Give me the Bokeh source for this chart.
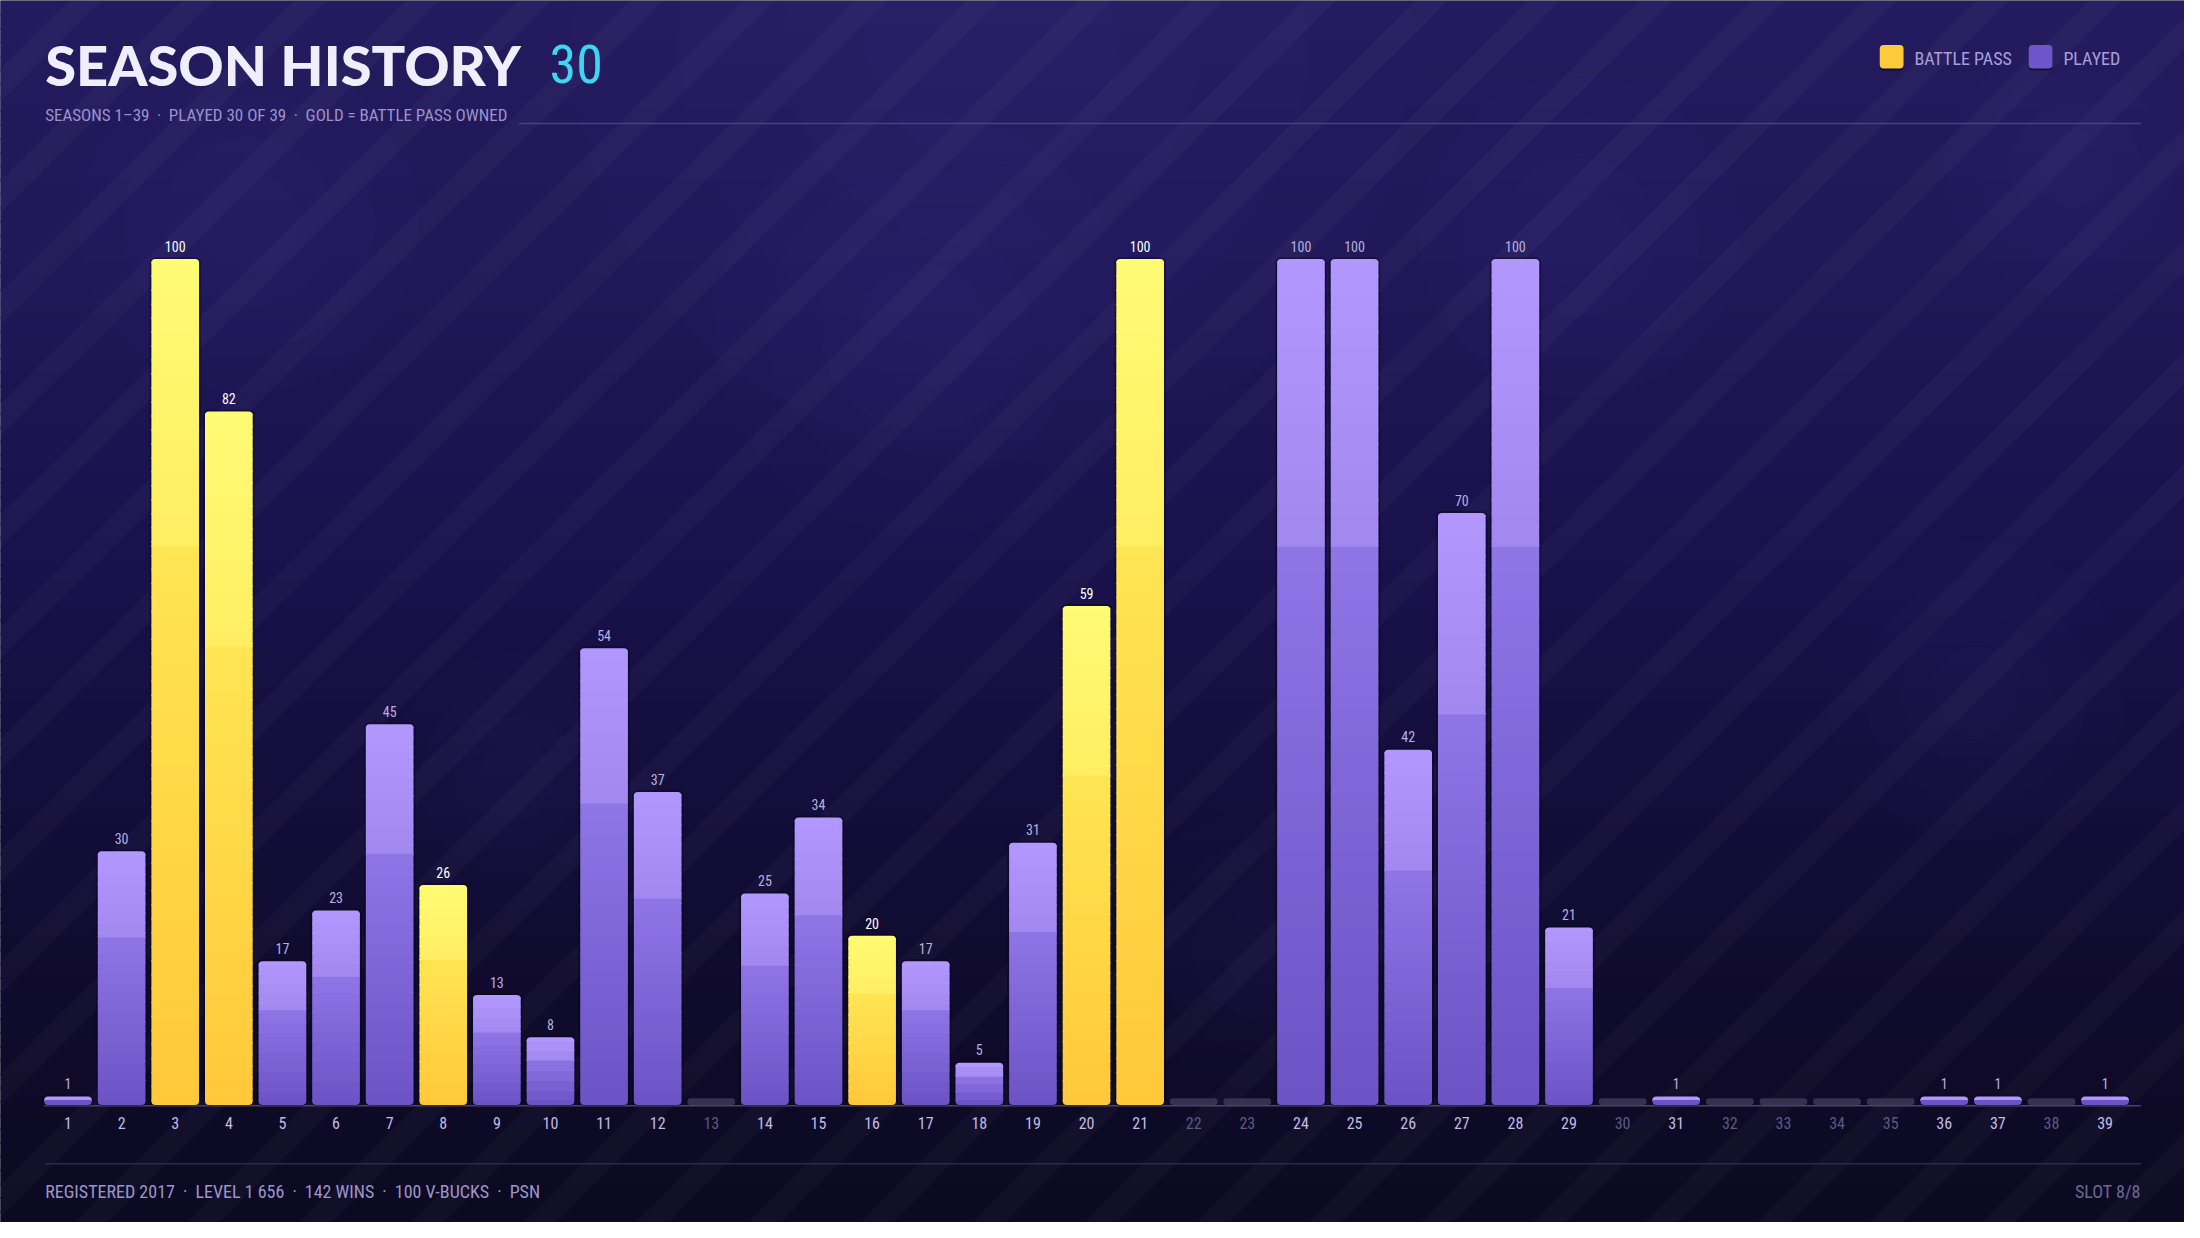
import numpy as np
from bokeh.plotting import figure
from bokeh.models import Range1d, ColumnDataSource
from bokeh.core.properties import value
from bokeh.embed import file_html
from bokeh.resources import INLINE

# ------------------------------------------------------------------ data
seasons = list(range(1, 40))
levels = [1, 30, 100, 82, 17, 23, 45, 26, 13, 8, 54, 37, 0, 25, 34, 20, 17, 5, 31, 59,
          100, 0, 0, 100, 100, 42, 70, 100, 21, 0, 1, 0, 0, 0, 0, 1, 1, 0, 1]
battle_pass_seasons = [3, 4, 8, 16, 20, 21]
tick_labels = [str(s) for s in seasons]

SEP = "\u2002\u00b7\u2002"
title_text = "SEASON HISTORY"
title_count = "30"
subtitle_text = SEP.join(["SEASONS 1\u201339", "PLAYED 30 OF 39", "GOLD = BATTLE PASS OWNED"])
legend_labels = ["BATTLE PASS", "PLAYED"]
footer_left = SEP.join(["REGISTERED 2017", "LEVEL 1 656", "142 WINS", "100 V-BUCKS", "PSN"])
footer_right = "SLOT 8/8"

# ------------------------------------------------------------------ layout (reference pixels)
W, H = 2184, 1222
REF_W, REF_H = 2200, 1238
X0, STEP = 68.0, 54.0          # first bar centre, bar pitch
BASE_Y, PPU = 1119.0, 8.57     # baseline, pixels per level unit


def dx(X):
    return 1 + (X - X0) / STEP


def dy(Y):
    return (BASE_Y - Y) / PPU


def sx(px):
    return px / STEP


def sy(px):
    return px / PPU


COND = ("'Noto Sans Condensed', 'Roboto Condensed', 'Open Sans Condensed', "
        "'Liberation Sans Narrow', 'DejaVu Sans Condensed', Roboto, sans-serif")
HEAVY = "'Lato Black', 'Lato Heavy', Lato, sans-serif"


def h2r(h):
    h = h.lstrip('#')
    return np.array([int(h[i:i + 2], 16) for i in (0, 2, 4)], dtype=float)


def r2h(c):
    c = np.clip(np.round(c), 0, 255).astype(int)
    return "#%02x%02x%02x" % tuple(c)


def mix(a, b, t):
    return r2h(h2r(a) * (1 - t) + h2r(b) * t)


def stop_color(stops, pos):
    for (p0, c0), (p1, c1) in zip(stops[:-1], stops[1:]):
        if p0 <= pos <= p1:
            return mix(c0, c1, (pos - p0) / (p1 - p0))
    return stops[-1][1]


p = figure(width=W, height=H,
           x_range=Range1d(dx(0), dx(REF_W)),
           y_range=Range1d(dy(REF_H), dy(0)),
           output_backend="svg", toolbar_location=None,
           x_axis_location=None, y_axis_location=None,
           min_border=0, outline_line_color=None,
           background_fill_color="#0c0a22", border_fill_color="#0c0a22")
p.grid.visible = False

# ------------------------------------------------------------------ background gradient
bg_stops = [(0, "#241b5e"), (300, "#1f1757"), (600, "#18114a"),
            (850, "#120d37"), (1100, "#0e0a27"), (1240, "#0c0a22")]
band_edges = np.linspace(0, 1240, 90)
p.quad(left=dx(-10), right=dx(2210),
       top=[dy(a) for a in band_edges[:-1]],
       bottom=[dy(b + 2) for b in band_edges[1:]],
       fill_color=[stop_color(bg_stops, (a + b) / 2) for a, b in zip(band_edges[:-1], band_edges[1:])],
       line_color=None)

# soft glows
glows = [(250, 225, 170), (930, 330, 210), (1590, 240, 160), (2090, 170, 130),
         (1990, 700, 150), (520, 790, 130), (1270, 960, 140), (1000, 40, 420)]
for k in (1.0, 0.75, 0.5, 0.3):
    p.scatter(x=[dx(g[0]) for g in glows], y=[dy(g[1]) for g in glows],
              size=[2 * g[2] * k for g in glows], marker="circle",
              fill_color="#7a68e0", fill_alpha=0.018, line_color=None)

# diagonal stripes
cs = np.arange(-1300, 3600, 113) + 30
p.multi_line(xs=[[dx(-60), dx(2260)] for c in cs],
             ys=[[dy(c + 60), dy(c - 2260)] for c in cs],
             line_color="#ffffff", line_alpha=0.028, line_width=23)

# ------------------------------------------------------------------ header (y = cap centre)
p.text(x=[dx(45)], y=[dy(64.5)], text=[title_text], text_font=value(HEAVY),
       text_font_style="bold", text_font_size="56px", text_color="#f1eefc",
       text_baseline="middle", text_align="left")
p.text(x=[dx(553)], y=[dy(64.5)], text=[title_count], text_font=value(COND),
       text_font_size="54px", text_color="#3fd6f3",
       text_baseline="middle", text_align="left")
p.text(x=[dx(45)], y=[dy(116)], text=[subtitle_text], text_font=value(COND),
       text_font_size="17px", text_color="#9c93cc",
       text_baseline="middle", text_align="left")
p.segment(x0=[dx(522)], x1=[dx(2156)], y0=[dy(124.5)], y1=[dy(124.5)],
          line_color="#4a4088", line_width=1.5)

# legend
leg_colors = ["#ffc93c", "#6e55cc"]
leg_sq_x = [1893, 2043]
leg_txt_x = [1928, 2078]
p.quad(left=[dx(x) for x in leg_sq_x], right=[dx(x + 24) for x in leg_sq_x],
       top=[dy(45 + 2)] * 2, bottom=[dy(69 + 2)] * 2,
       fill_color="#0a0720", fill_alpha=0.6, line_color=None, border_radius=4)
p.quad(left=[dx(x) for x in leg_sq_x], right=[dx(x + 24) for x in leg_sq_x],
       top=[dy(45)] * 2, bottom=[dy(69)] * 2,
       fill_color=leg_colors, line_color=None, border_radius=4)
p.text(x=[dx(x) for x in leg_txt_x], y=[dy(58.5)] * 2, text=legend_labels,
       text_font=value(COND), text_font_size="18px", text_color="#a89fd8",
       text_baseline="middle", text_align="left")

# ------------------------------------------------------------------ bars
p.segment(x0=[dx(44)], x1=[dx(2156)], y0=[dy(BASE_Y + 0.8)], y1=[dy(BASE_Y + 0.8)],
          line_color="#4a4568", line_width=1.5)

played_x = [s for s, v in zip(seasons, levels) if v > 0]
played_v = [v for v in levels if v > 0]
unplayed_x = [s for s, v in zip(seasons, levels) if v == 0]
is_gold = [s in battle_pass_seasons for s in played_x]

# unplayed stubs
p.vbar(x=unplayed_x, width=sx(48), top=sy(7), bottom=0,
       fill_color="#36314f", line_color=None, border_radius=3)

# shadows
p.vbar(x=played_x, width=sx(52), top=[v + sy(2) for v in played_v], bottom=sy(-1),
       fill_color="#06041a", fill_alpha=0.4, line_color=None, border_radius=6)

PAL = {
    False: (("#6b53c5", "#8f75e6"), ("#a288ee", "#b297ff")),
    True: (("#ffc83a", "#ffe553"), ("#ffee62", "#fffb74")),
}
SPLIT = 0.66


def bar_color(gold, t):
    lo, hi = PAL[gold]
    if t < SPLIT:
        return mix(lo[0], lo[1], t / SPLIT)
    return mix(hi[0], hi[1], (t - SPLIT) / (1 - SPLIT))


sl = dict(x=[], top=[], bottom=[], color=[])
tc = dict(x=[], top=[], bottom=[], color=[])
bc = dict(x=[], top=[], bottom=[], color=[])
for s, v, g in zip(played_x, played_v, is_gold):
    hpx = v * PPU
    r = min(4.0, hpx / 2)
    t_lo, t_hi = r / hpx, 1 - r / hpx
    n = int(max(2, min(60, hpx / 10)))
    edges = list(np.linspace(t_lo, t_hi, n + 1))
    if t_lo < SPLIT < t_hi:
        edges.append(SPLIT)
    edges = sorted(set(edges))
    for a, b in zip(edges[:-1], edges[1:]):
        sl["x"].append(s)
        sl["bottom"].append(a * v)
        sl["top"].append(min(b * v + sy(1.5), v - sy(1)))
        sl["color"].append(bar_color(g, (a + b) / 2))
    tc["x"].append(s)
    tc["top"].append(v)
    tc["bottom"].append(v - sy(r) - sy(0.2))
    tc["color"].append(bar_color(g, 0.995))
    bc["x"].append(s)
    bc["top"].append(sy(r) + sy(1.0))
    bc["bottom"].append(0)
    bc["color"].append(bar_color(g, 0.005))

p.vbar(x="x", top="top", bottom="bottom", width=sx(48), fill_color="color",
       line_color=None, source=ColumnDataSource(sl))
p.vbar(x="x", top="top", bottom="bottom", width=sx(48), fill_color="color",
       line_color=None, border_radius=(4, 4, 0, 0), source=ColumnDataSource(tc))
p.vbar(x="x", top="top", bottom="bottom", width=sx(48), fill_color="color",
       line_color=None, border_radius=(0, 0, 4, 4), source=ColumnDataSource(bc))

# value labels (cap centre 13px above bar top)
p.text(x=played_x, y=[v + sy(13) for v in played_v], text=[str(v) for v in played_v],
       text_font=value(COND), text_font_size="14px",
       text_color=["#ffffff" if g else "#b9b0e0" for g in is_gold],
       text_baseline="middle", text_align="center")

# tick labels
p.text(x=seasons, y=dy(1137), text=tick_labels, text_font=value(COND),
       text_font_size="16px",
       text_color=["#c3bbe6" if v > 0 else "#5f5885" for v in levels],
       text_baseline="middle", text_align="center")

# ------------------------------------------------------------------ footer
p.segment(x0=[dx(45)], x1=[dx(2156)], y0=[dy(1178.5)], y1=[dy(1178.5)],
          line_color="#2e2852", line_width=1.5)
p.text(x=[dx(45)], y=[dy(1207)], text=[footer_left], text_font=value(COND),
       text_font_size="18px", text_color="#9d95c8",
       text_baseline="middle", text_align="left")
p.text(x=[dx(2156)], y=[dy(1207)], text=[footer_right], text_font=value(COND),
       text_font_size="18px", text_color="#6d6694",
       text_baseline="middle", text_align="right")

open("out.html", "w").write(file_html(p, INLINE))
